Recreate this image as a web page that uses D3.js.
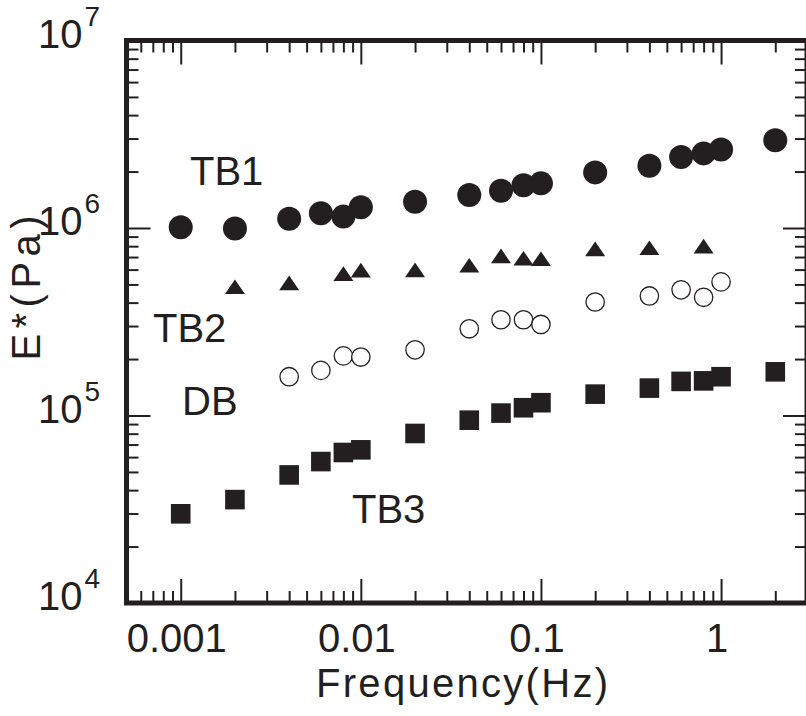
<!DOCTYPE html>
<html>
<head>
<meta charset="utf-8">
<script src="https://cdn.jsdelivr.net/npm/d3@7/dist/d3.min.js"></script>
<style>
  html, body { margin: 0; padding: 0; background: #fff; }
  svg { display: block; font-family: "Liberation Sans", Arial, sans-serif; }
</style>
</head>
<body>
<svg id="chart" width="806" height="716"></svg>
<script>
const freqTB1 = [0.001, 0.002, 0.004, 0.006, 0.008, 0.01, 0.02, 0.04, 0.06, 0.08, 0.1, 0.2, 0.4, 0.6, 0.8, 1, 2];
const eTB1 = [1.01e6, 0.995e6, 1.12e6, 1.20e6, 1.15e6, 1.29e6, 1.38e6, 1.50e6, 1.58e6, 1.69e6, 1.73e6, 1.98e6, 2.15e6, 2.39e6, 2.50e6, 2.62e6, 2.94e6];

const freqTB2 = [0.002, 0.004, 0.008, 0.01, 0.02, 0.04, 0.06, 0.08, 0.1, 0.2, 0.4, 0.8];
const eTB2 = [4.86e5, 5.10e5, 5.71e5, 5.96e5, 5.98e5, 6.33e5, 7.10e5, 6.90e5, 6.86e5, 7.74e5, 7.85e5, 8.00e5];

const freqDB = [0.004, 0.006, 0.008, 0.01, 0.02, 0.04, 0.06, 0.08, 0.1, 0.2, 0.4, 0.6, 0.8, 1];
const eDB = [1.61e5, 1.74e5, 2.08e5, 2.05e5, 2.24e5, 2.90e5, 3.24e5, 3.24e5, 3.06e5, 4.03e5, 4.34e5, 4.68e5, 4.27e5, 5.16e5];

const freqTB3 = [0.001, 0.002, 0.004, 0.006, 0.008, 0.01, 0.02, 0.04, 0.06, 0.08, 0.1, 0.2, 0.4, 0.6, 0.8, 1, 2];
const eTB3 = [2.99e4, 3.56e4, 4.82e4, 5.68e4, 6.35e4, 6.56e4, 8.02e4, 9.44e4, 1.03e5, 1.10e5, 1.17e5, 1.30e5, 1.40e5, 1.52e5, 1.53e5, 1.61e5, 1.71e5];

const xMajor = [0.001, 0.01, 0.1, 1];
const xMajorLabels = ["0.001", "0.01", "0.1", "1"];
const yMajor = [1e4, 1e5, 1e6, 1e7];
const yMajorExp = ["4", "5", "6", "7"];

const seriesLabels = [
  { name: "TB1", x: 190, y: 185 },
  { name: "TB2", x: 153, y: 342 },
  { name: "DB", x: 182, y: 415 },
  { name: "TB3", x: 352, y: 523 }
];

const ink = "#231f20";
const svg = d3.select("#chart");

const x = d3.scaleLog().domain([0.0005, 3]).range([126.5, 807]);
const y = d3.scaleLog().domain([1e4, 1e7]).range([603, 40.5]);

// minor ticks 2..9 within each decade, inside the domain
const minorOf = function (scale) {
  const [a, b] = scale.domain();
  const out = [];
  for (let e = Math.floor(Math.log10(a)); e <= Math.ceil(Math.log10(b)); e++) {
    for (let m = 2; m <= 9; m++) {
      const v = m * Math.pow(10, e);
      if (v > a * 1.0001 && v < b * 0.9999) out.push(v);
    }
  }
  return out;
};
const xMinor = minorOf(x);
const yMinor = minorOf(y);

const axisLayer = svg.append("g");
const drawAxis = function (axisFn, scale, values, size, transform) {
  const g = axisLayer.append("g")
    .attr("transform", transform)
    .call(axisFn(scale).tickValues(values).tickSize(size).tickFormat(""));
  g.select(".domain").remove();
  g.selectAll(".tick line").attr("stroke", ink).attr("stroke-width", 2);
};

// ticks point inward on all four sides
drawAxis(d3.axisBottom, x, xMajor, -24, "translate(0,603)");
drawAxis(d3.axisBottom, x, xMinor, -12, "translate(0,603)");
drawAxis(d3.axisTop, x, xMajor, -24, "translate(0,40.5)");
drawAxis(d3.axisTop, x, xMinor, -12, "translate(0,40.5)");
drawAxis(d3.axisLeft, y, yMajor, -24, "translate(126.5,0)");
drawAxis(d3.axisLeft, y, yMinor, -12, "translate(126.5,0)");
drawAxis(d3.axisRight, y, yMajor, -24, "translate(807,0)");
drawAxis(d3.axisRight, y, yMinor, -12, "translate(807,0)");

svg.append("rect")
  .attr("x", x.range()[0])
  .attr("y", y.range()[1])
  .attr("width", x.range()[1] - x.range()[0])
  .attr("height", y.range()[0] - y.range()[1])
  .attr("fill", "none")
  .attr("stroke", ink)
  .attr("stroke-width", 5);

// tick labels
svg.append("g").selectAll("text")
  .data(xMajor)
  .enter().append("text")
  .attr("x", d => x(d) - 4)
  .attr("y", 652)
  .attr("text-anchor", "middle")
  .attr("font-size", 40)
  .attr("fill", ink)
  .text((d, i) => xMajorLabels[i]);

const yLab = svg.append("g").selectAll("text")
  .data(yMajor)
  .enter().append("text")
  .attr("x", 38)
  .attr("y", d => y(d) + 7)
  .attr("font-size", 40)
  .attr("fill", ink);
yLab.append("tspan").text("10");
yLab.append("tspan")
  .attr("dx", 2)
  .attr("dy", -22)
  .attr("font-size", 28)
  .text((d, i) => yMajorExp[i]);

// axis titles
svg.append("text")
  .attr("x", 316)
  .attr("y", 697)
  .attr("font-size", 40)
  .attr("fill", ink)
  .attr("textLength", 292)
  .attr("lengthAdjust", "spacing")
  .text("Frequency(Hz)");

svg.append("text")
  .attr("transform", "translate(40,288) rotate(-90)")
  .attr("text-anchor", "middle")
  .attr("font-size", 40)
  .attr("fill", ink)
  .attr("textLength", 145)
  .attr("lengthAdjust", "spacing")
  .text("E*(Pa)");

// markers
const zip = (xs, ys) => xs.map((f, i) => ({ f: f, e: ys[i] }));
const marks = svg.append("g");

marks.append("g").selectAll("circle")
  .data(zip(freqTB1, eTB1))
  .enter().append("circle")
  .attr("cx", d => x(d.f))
  .attr("cy", d => y(d.e))
  .attr("r", 12)
  .attr("fill", ink);

marks.append("g").selectAll("path")
  .data(zip(freqTB2, eTB2))
  .enter().append("path")
  .attr("d", "M0,-7.3L10,7.3L-10,7.3Z")
  .attr("transform", d => `translate(${x(d.f)},${y(d.e)})`)
  .attr("fill", ink);

marks.append("g").selectAll("circle")
  .data(zip(freqDB, eDB))
  .enter().append("circle")
  .attr("cx", d => x(d.f))
  .attr("cy", d => y(d.e))
  .attr("r", 9.2)
  .attr("fill", "#fff")
  .attr("stroke", ink)
  .attr("stroke-width", 1.3);

marks.append("g").selectAll("rect")
  .data(zip(freqTB3, eTB3))
  .enter().append("rect")
  .attr("x", d => x(d.f) - 9.8)
  .attr("y", d => y(d.e) - 9.8)
  .attr("width", 19.6)
  .attr("height", 19.6)
  .attr("fill", ink);

// series names
svg.append("g").selectAll("text")
  .data(seriesLabels)
  .enter().append("text")
  .attr("x", d => d.x)
  .attr("y", d => d.y)
  .attr("font-size", 40)
  .attr("fill", ink)
  .text(d => d.name);
</script>
</body>
</html>
